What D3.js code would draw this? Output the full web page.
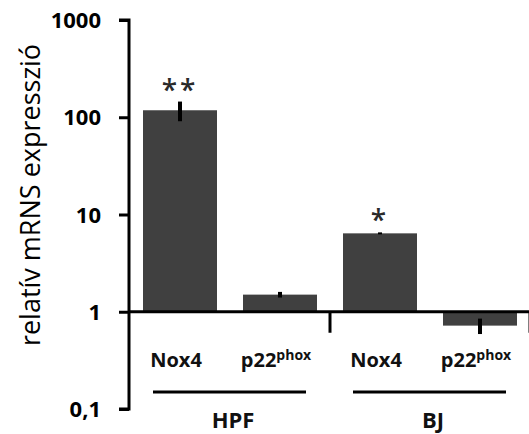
<!DOCTYPE html>
<html><head><meta charset="utf-8">
<script src="https://cdn.jsdelivr.net/npm/d3@7"></script>
<style>body{margin:0;background:#fff;} svg{display:block;}</style>
</head><body>
<script>
const categories = ["HPF Nox4", "HPF p22phox", "BJ Nox4", "BJ p22phox"];
const geneLabels = ["Nox4", "p22", "Nox4", "p22"];
const geneSup = ["", "phox", "", "phox"];
const groups = ["HPF", "BJ"];
const values = [118, 1.5, 6.4, 0.72];
const errors = [27, 0.1, 0.15, 0.13];
const stars = ["**", "", "*", ""];
const tickValues = [0.1, 1, 10, 100, 1000];
const tickLabels = ["0,1", "1", "10", "100", "1000"];
const yTitle = "relatív mRNS expresszió";

const W = 529, H = 434;
const svg = d3.select("body").append("svg").attr("width", W).attr("height", H);
const font = "'Open Sans', sans-serif";

const y = d3.scaleLog().domain([0.1, 1000]).range([409, 20]);
const x = d3.scaleBand().domain(categories).range([130, 530]).paddingInner(0.26).paddingOuter(0.13);
const gx = d3.scaleBand().domain(groups).range([130, 530]);
const axisX = 129;

// bars
svg.selectAll("rect.bar").data(categories).join("rect")
  .attr("x", d => x(d)).attr("width", x.bandwidth())
  .attr("y", (d,i) => Math.min(y(values[i]), y(1)))
  .attr("height", (d,i) => Math.abs(y(values[i]) - y(1)))
  .attr("fill", "#404040");

// error bars
svg.selectAll("line.err").data(categories).join("line")
  .attr("x1", d => x(d) + x.bandwidth()/2).attr("x2", d => x(d) + x.bandwidth()/2)
  .attr("y1", (d,i) => y(values[i] + errors[i]))
  .attr("y2", (d,i) => y(values[i] - errors[i]))
  .attr("stroke", "#000").attr("stroke-width", 4);

// stars
svg.selectAll("text.star").data(categories).join("text")
  .attr("x", d => x(d) + x.bandwidth()/2)
  .attr("y", (d,i) => y(values[i] + errors[i]) - 2)
  .attr("text-anchor", "middle")
  .attr("font-family", font).attr("font-weight", 600).attr("font-size", 28).attr("fill", "#2a2a2a")
  .attr("letter-spacing", 3)
  .text((d,i) => stars[i]);

// y axis
const yAxis = d3.axisLeft(y).tickValues(tickValues).tickFormat((d,i) => tickLabels[i]).tickSize(10).tickPadding(18);
const ga = svg.append("g").attr("transform", `translate(${axisX},0)`).call(yAxis);
ga.select(".domain").attr("stroke", "#000").attr("stroke-width", 3).attr("d", `M-10,${y(1000)}H0V${y(0.1)}H-10`);
ga.selectAll(".tick line").attr("stroke", "#000").attr("stroke-width", 3);
ga.selectAll(".tick text").attr("font-family", font).attr("font-weight", 700).attr("font-size", 22).attr("fill", "#000").attr("dy", "0.35em");

// x baseline
svg.append("line").attr("x1", axisX).attr("x2", W).attr("y1", y(1)).attr("y2", y(1))
  .attr("stroke", "#000").attr("stroke-width", 3);
// group separator ticks
svg.selectAll("line.sep").data(groups).join("line")
  .attr("x1", d => gx(d) + gx.bandwidth()).attr("x2", d => gx(d) + gx.bandwidth())
  .attr("y1", y(1)).attr("y2", y(1) + 21).attr("stroke", "#000").attr("stroke-width", 3);

// gene labels
const gl = svg.selectAll("text.gene").data(categories).join("text")
  .attr("x", d => x(d) + x.bandwidth()/2 - 4).attr("y", 367)
  .attr("text-anchor", "middle")
  .attr("font-family", font).attr("font-weight", 700).attr("font-size", 20).attr("fill", "#111");
gl.append("tspan").text((d,i) => geneLabels[i]);
gl.append("tspan").attr("font-size", 14).attr("dy", -7).text((d,i) => geneSup[i]);

// group lines and labels
svg.selectAll("line.grp").data(groups).join("line")
  .attr("x1", d => gx(d) + 23).attr("x2", d => gx(d) + gx.bandwidth() - 24)
  .attr("y1", 392).attr("y2", 392).attr("stroke", "#000").attr("stroke-width", 3);
svg.selectAll("text.grp").data(groups).join("text")
  .attr("x", d => gx(d) + gx.bandwidth()/2 + 3).attr("y", 428)
  .attr("text-anchor", "middle")
  .attr("font-family", font).attr("font-weight", 700).attr("font-size", 22).attr("fill", "#111")
  .text(d => d);

// y title
svg.append("text").attr("transform", `translate(40,195) rotate(-90)`)
  .attr("text-anchor", "middle")
  .attr("font-family", font).attr("font-weight", 500).attr("font-size", 27).attr("fill", "#000")
  .text(yTitle);
</script>
</body></html>
